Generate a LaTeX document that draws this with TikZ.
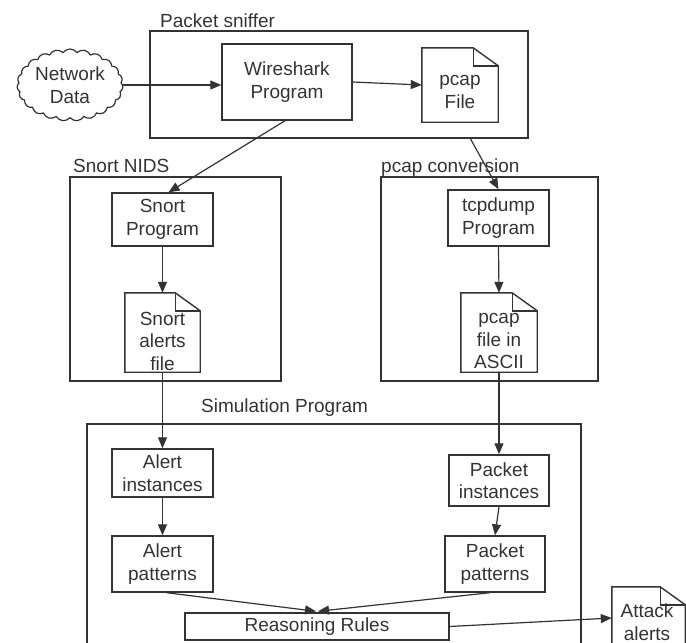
\documentclass[tikz,border=0pt]{standalone}
\usepackage{fontspec}
\setmainfont{Liberation Sans}
\usetikzlibrary{shapes.symbols,arrows.meta,calc}
\definecolor{ink}{HTML}{333333}
\newcommand{\docout}[1]{%
  \draw[ln, line join=miter] (#1.north west) -- ($(#1.north east)+(-25,0)$) -- ($(#1.north east)+(0,18)$) -- (#1.south east) -- (#1.south west) -- cycle;
  \draw[ln] ($(#1.north east)+(-25,0)$) -- ($(#1.north east)+(-25,18)$) -- ($(#1.north east)+(0,18)$);}
\begin{document}
\begin{tikzpicture}[x=1pt,y=-1pt,
  every node/.style={font=\fontsize{19}{22.5}\selectfont, text=ink, align=center, inner sep=0pt},
  ln/.style={draw=ink, line width=1.4pt},
  frame/.style={ln},
  box/.style={ln},
  docnode/.style={},
  lbl/.style={anchor=base west},
  arr/.style={draw=ink, line width=1.2pt, -{Triangle[length=11pt,width=9pt]}}]
\useasboundingbox (0,0) rectangle (686,643);

% frames
\node[frame, minimum width=378pt, minimum height=107pt] (sniffer) at (339,84.5) {};
\node[lbl] (snifferlbl) at (160,27) {Packet sniffer};
\node[frame, minimum width=211pt, minimum height=204pt] (nids) at (175.5,279) {};
\node[lbl] (nidslbl) at (73,172) {Snort NIDS};
\node[frame, minimum width=217pt, minimum height=204pt] (conv) at (489.5,279) {};
\node[lbl] (convlbl) at (381,172) {pcap conversion};
\node[frame, minimum width=494pt, minimum height=236pt] (sim) at (334,542) {};
\node[lbl] (simlbl) at (201,412) {Simulation Program};

% top row
\node[cloud, cloud puffs=23, cloud puff arc=110, aspect=1.5, ln, line width=1.2pt,
      minimum width=106pt, minimum height=72pt] (net) at (70,85) {Network\\Data};
\node[box, minimum width=130pt, minimum height=76pt] (ws) at (287,82) {Wireshark\\Program};
\node[docnode, minimum width=76pt, minimum height=74pt] (pf) at (460,85) {};
\docout{pf}
\node (pft) at (460,92) {pcap\\File};

% Snort NIDS
\node[box, minimum width=101pt, minimum height=53pt] (sp) at (162.5,219.5) {Snort\\Program};
\node[docnode, minimum width=75pt, minimum height=79pt] (saf) at (162.5,332.5) {};
\docout{saf}
\node (saft) at (162.5,341) {Snort\\alerts\\file};

% pcap conversion
\node[box, minimum width=101pt, minimum height=56pt] (tcp) at (498.5,218) {tcpdump\\Program};
\node[docnode, minimum width=76pt, minimum height=79pt] (pa) at (499,332.5) {};
\docout{pa}
\node (pat) at (499,341) {pcap\\file in\\ASCII};
\coordinate (sniffout) at (470,138);

% simulation
\node[box, minimum width=101pt, minimum height=48pt] (ai) at (162.5,473) {Alert\\instances};
\node[box, minimum width=101pt, minimum height=56pt] (ap) at (162.5,564) {Alert\\patterns};
\node[box, minimum width=100pt, minimum height=51pt] (pi) at (499,480.5) {Packet\\instances};
\node[box, minimum width=100pt, minimum height=56pt] (pp) at (495,564) {Packet\\patterns};
\node[box, minimum width=264pt, minimum height=27pt] (rr) at (317,626.5) {Reasoning Rules};
\node[docnode, minimum width=73pt, minimum height=62pt] (att) at (648.5,618) {};
\docout{att}
\node (attt) at (647,622) {Attack\\alerts};

% connectors
\draw[arr] (net.east) -- (ws.west |- net.east);
\draw[arr] (ws.east) -- (pf.west);
\draw[arr] ([xshift=-2pt]ws.south) -- ([xshift=6pt]sp.north);
\draw[arr] (sniffout) -- (tcp.north);
\draw[arr] (sp.south) -- (saf.north);
\draw[arr] (tcp.south) -- (pa.north);
\draw[arr] (saf.south) -- (ai.north);
\draw[arr] (pa.south) -- (pi.north);
\draw[arr] (ai.south) -- (ap.north);
\draw[arr] (pi.south) -- (pp.north);
\draw[arr] ([xshift=4pt]ap.south) -- ($(rr.north)+(-1,-1)$);
\draw[arr] ([xshift=-5pt]pp.south) -- ($(rr.north)+(1,-1)$);
\draw[arr] (rr.east) -- (att.west);
\end{tikzpicture}
\end{document}
